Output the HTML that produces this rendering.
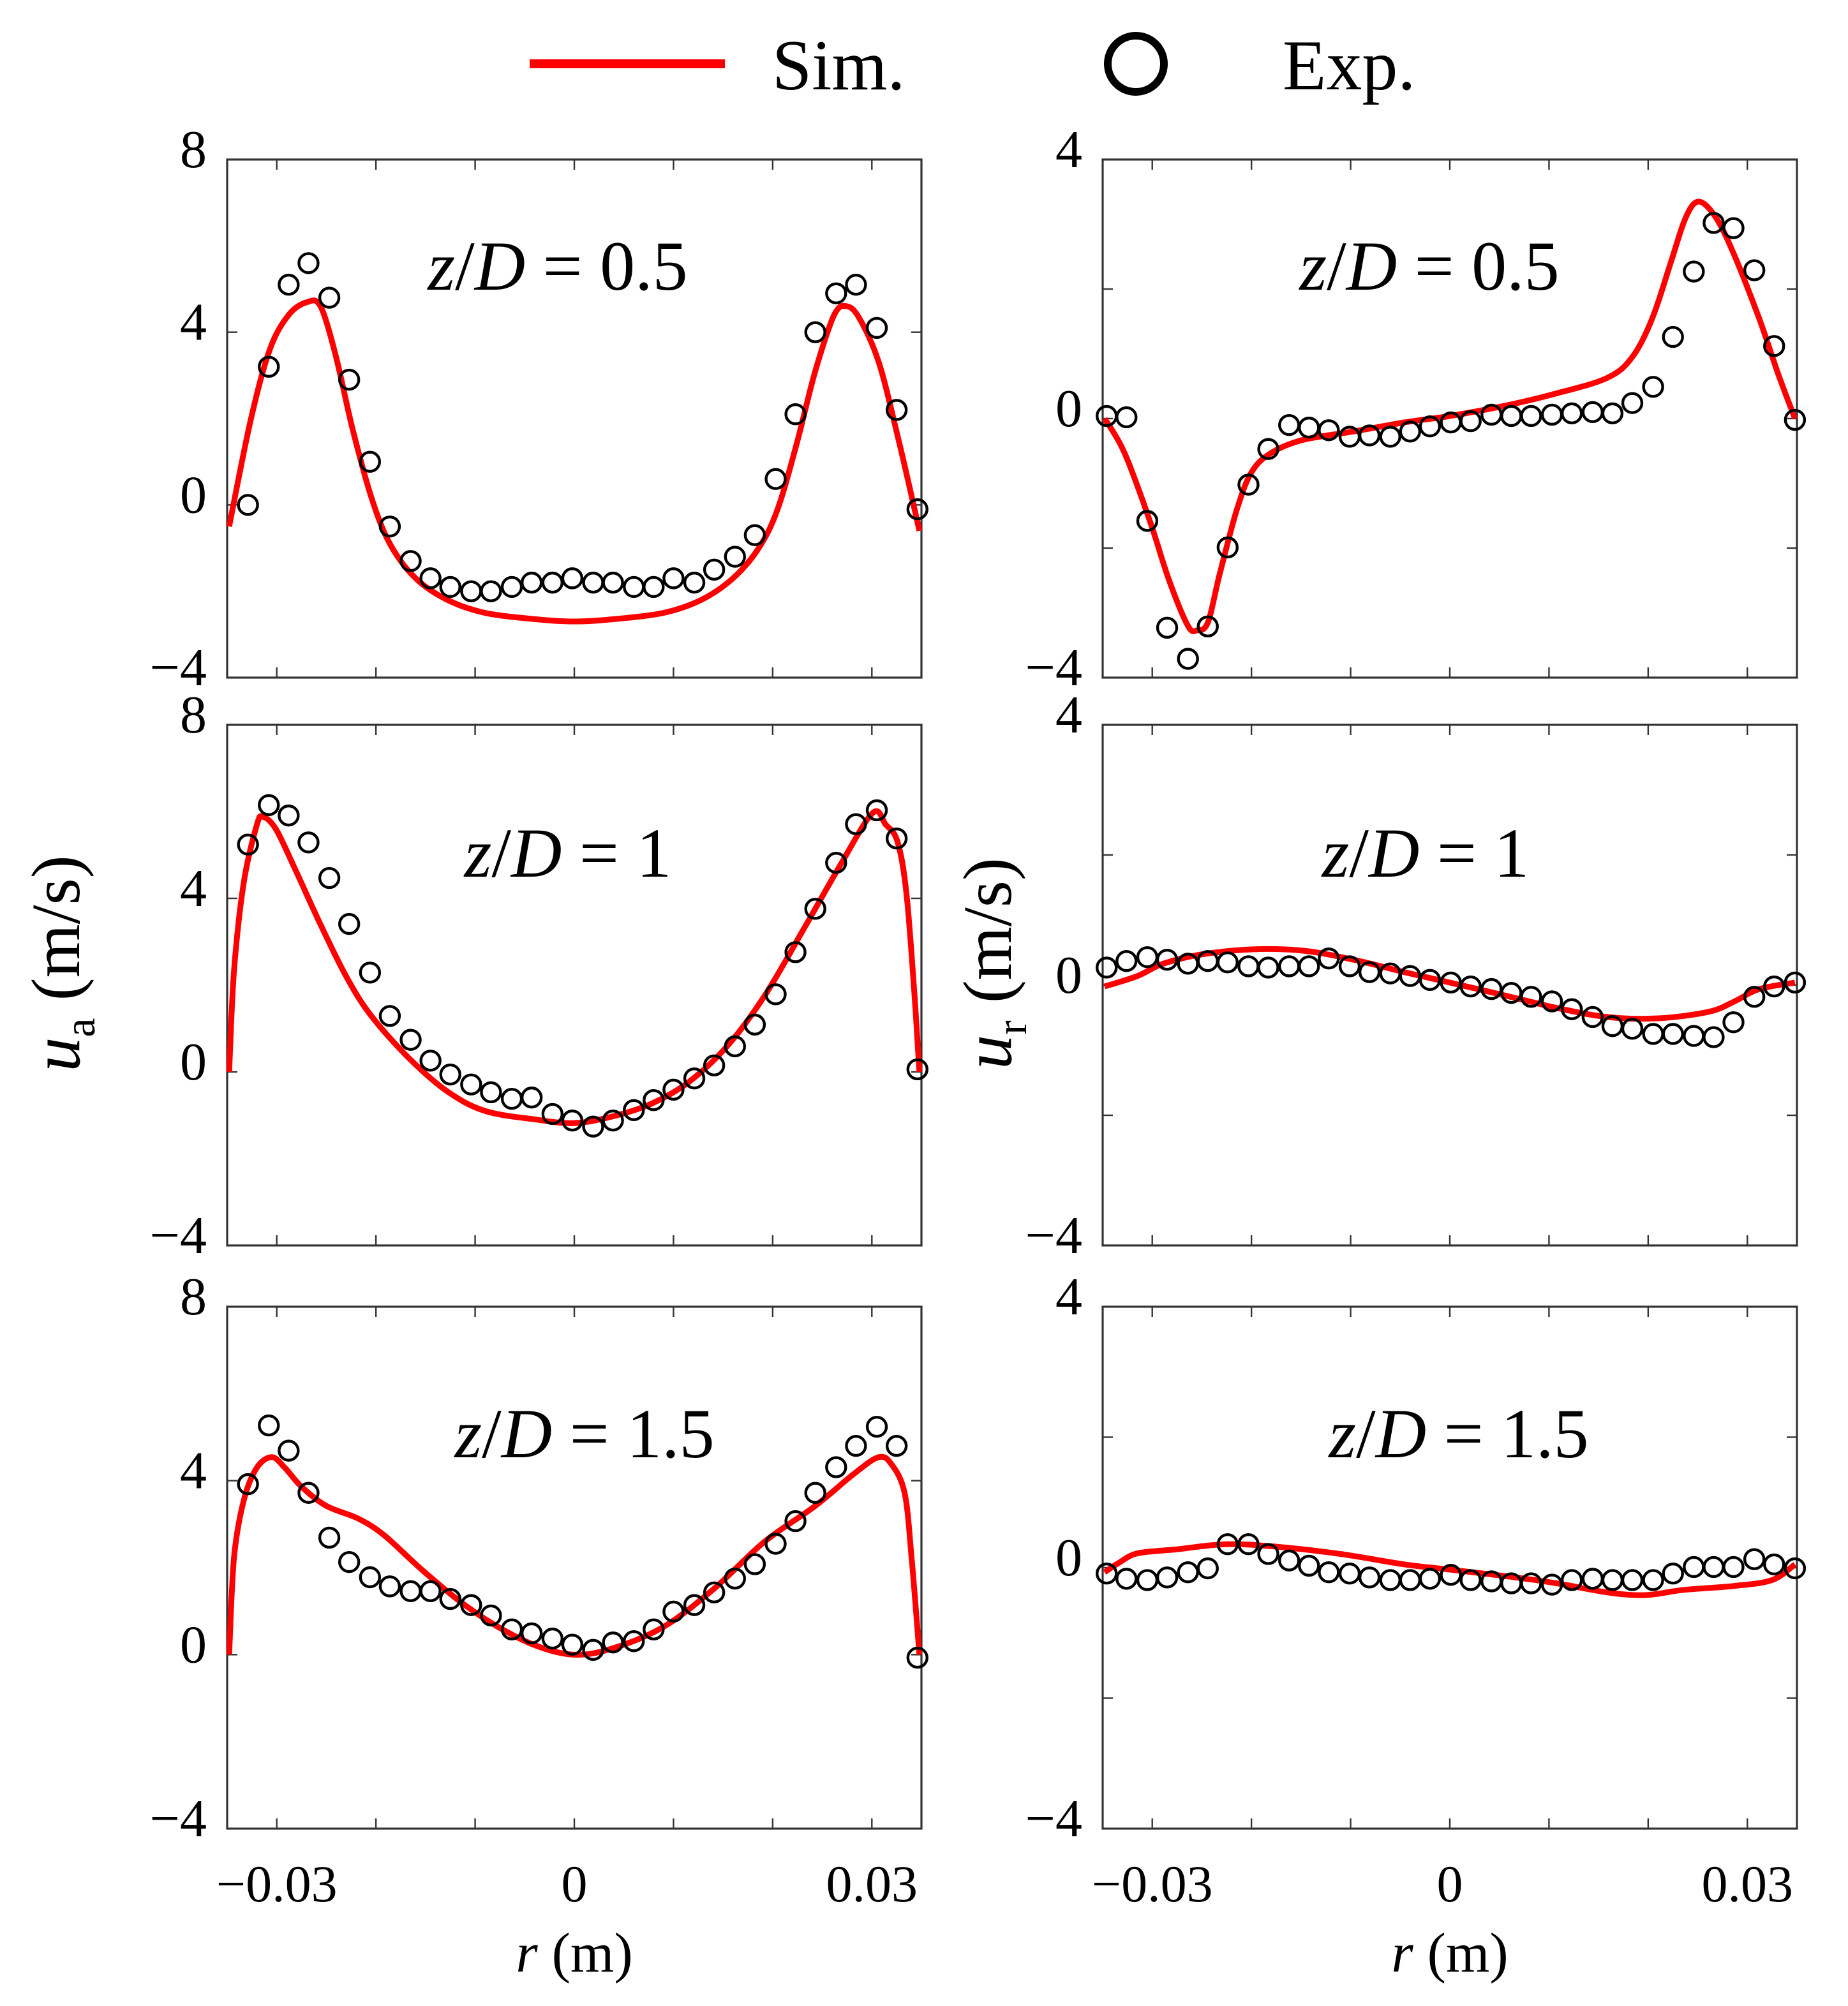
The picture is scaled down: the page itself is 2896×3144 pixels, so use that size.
<!DOCTYPE html>
<html><head><meta charset="utf-8"><style>
html,body{margin:0;padding:0;background:#fff;}
svg{display:block;}
text{font-family:"Liberation Serif",serif;fill:#000;}
</style></head><body>
<svg id="fig" width="2896" height="3144" viewBox="0 0 1448 1572" xmlns="http://www.w3.org/2000/svg">
<g>
<line x1="415" y1="50" x2="568" y2="50" stroke="#f00" stroke-width="7"/>
<text x="605" y="70" font-size="56">Sim.</text>
<circle cx="890" cy="50" r="22" fill="none" stroke="#000" stroke-width="6"/>
<text x="1005" y="70" font-size="56">Exp.</text>
</g>
<text transform="translate(62,755) rotate(-90)" text-anchor="middle" font-size="54"><tspan font-style="italic">u</tspan><tspan font-size="34" dy="12">a</tspan><tspan dy="-12"> (m/s)</tspan></text>
<text transform="translate(792,755) rotate(-90)" text-anchor="middle" font-size="54"><tspan font-style="italic">u</tspan><tspan font-size="34" dy="12">r</tspan><tspan dy="-12"> (m/s)</tspan></text>
<text x="450" y="1545" text-anchor="middle" font-size="44"><tspan font-style="italic">r</tspan> (m)</text>
<text x="1136" y="1545" text-anchor="middle" font-size="44"><tspan font-style="italic">r</tspan> (m)</text>
</svg>
<script>
const xTicks=[-0.03,0,0.03];
const xMinor=[-0.03,-0.02,-0.01,0,0.01,0.02,0.03];
const yTicksA=[8,4,0,-4];
const yTicksR=[4,0,-4];
const yMinorR=[4,2,0,-2,-4];
const titles=["0.5","1","1.5"];
const rExpL=[-0.0329,-0.0308,-0.0288,-0.0268,-0.0247,-0.0227,-0.0206,-0.0186,-0.0165,-0.0145,-0.0125,-0.0104,-0.0084,-0.0063,-0.0043,-0.0022,-0.0002,0.0019,0.0039,0.006,0.008,0.01,0.0121,0.0141,0.0162,0.0182,0.0203,0.0223,0.0243,0.0264,0.0284,0.0305,0.0325,0.0346];
const rExpR=[-0.0346,-0.0326,-0.0305,-0.0285,-0.0264,-0.0244,-0.0224,-0.0203,-0.0183,-0.0162,-0.0142,-0.0122,-0.0101,-0.0081,-0.006,-0.004,-0.002,0.0001,0.0021,0.0042,0.0062,0.0082,0.0103,0.0123,0.0144,0.0164,0.0184,0.0205,0.0225,0.0246,0.0266,0.0286,0.0307,0.0327,0.0348];
const expA1=[0.0,3.2,5.1,5.6,4.8,2.9,1.0,-0.5,-1.3,-1.7,-1.9,-2.0,-2.0,-1.9,-1.8,-1.8,-1.7,-1.8,-1.8,-1.9,-1.9,-1.7,-1.8,-1.5,-1.2,-0.7,0.6,2.1,4.0,4.9,5.1,4.1,2.2,-0.1];
const expA2=[5.24,6.15,5.91,5.29,4.47,3.41,2.29,1.29,0.74,0.26,-0.06,-0.29,-0.47,-0.62,-0.59,-0.97,-1.12,-1.26,-1.12,-0.88,-0.65,-0.41,-0.15,0.15,0.59,1.09,1.79,2.76,3.76,4.82,5.71,6.03,5.38,0.06];
const expA3=[3.92,5.27,4.69,3.72,2.69,2.13,1.78,1.57,1.46,1.46,1.28,1.14,0.9,0.58,0.49,0.37,0.23,0.11,0.28,0.31,0.58,0.99,1.14,1.43,1.75,2.08,2.55,3.07,3.72,4.31,4.8,5.24,4.8,-0.07];
const expR1=[0.04,0.02,-1.58,-3.23,-3.71,-3.21,-1.99,-1.02,-0.47,-0.1,-0.14,-0.18,-0.28,-0.26,-0.28,-0.2,-0.12,-0.06,-0.04,0.06,0.04,0.04,0.06,0.08,0.1,0.08,0.24,0.49,1.26,2.27,3.02,2.94,2.29,1.12,-0.02];
const expR2=[0.27,0.37,0.43,0.39,0.33,0.37,0.35,0.29,0.27,0.29,0.29,0.41,0.29,0.2,0.18,0.14,0.08,0.04,-0.02,-0.06,-0.12,-0.18,-0.25,-0.37,-0.49,-0.63,-0.67,-0.75,-0.75,-0.78,-0.8,-0.57,-0.18,-0.02,0.04];
const expR3=[-0.09,-0.17,-0.19,-0.15,-0.07,-0.01,0.36,0.36,0.21,0.11,0.03,-0.07,-0.09,-0.15,-0.19,-0.19,-0.17,-0.11,-0.19,-0.21,-0.24,-0.24,-0.26,-0.19,-0.17,-0.19,-0.19,-0.19,-0.09,0.01,0.01,0.01,0.13,0.05,-0.01];
const rSimA1=[-0.0348,-0.0326,-0.0307,-0.0288,-0.0269,-0.0256,-0.0241,-0.0224,-0.0205,-0.0186,-0.016,-0.0128,-0.009,-0.0038,0,0.0038,0.009,0.0128,0.016,0.0186,0.0205,0.0224,0.0243,0.0262,0.0275,0.0288,0.0307,0.0326,0.0348];
const simA1=[-0.5,2.0,3.6,4.4,4.7,4.6,3.5,1.8,0.2,-0.9,-1.7,-2.2,-2.5,-2.65,-2.7,-2.65,-2.5,-2.2,-1.7,-1.0,-0.1,1.4,3.1,4.4,4.6,4.3,3.3,1.6,-0.6];
const rSimA2=[-0.0348,-0.0343,-0.0333,-0.032,-0.0314,-0.0301,-0.0282,-0.0256,-0.023,-0.0205,-0.0166,-0.0128,-0.009,-0.0038,0,0.0038,0.0077,0.0115,0.0154,0.0192,0.023,0.0269,0.0301,0.0314,0.0326,0.0335,0.0343,0.0348];
const simA2=[0,2.35,4.4,5.7,5.88,5.6,4.7,3.4,2.2,1.3,0.3,-0.45,-0.9,-1.1,-1.18,-1.03,-0.74,-0.24,0.59,1.76,3.24,4.8,5.97,5.7,5.3,4.1,1.76,0];
const rSimA3=[-0.0348,-0.0343,-0.0333,-0.032,-0.0305,-0.0292,-0.0275,-0.025,-0.0218,-0.0192,-0.0154,-0.0115,-0.0077,-0.0038,0,0.0038,0.009,0.0141,0.0192,0.0243,0.0282,0.0307,0.032,0.0333,0.034,0.0348];
const simA3=[0,2.25,3.57,4.3,4.54,4.3,3.86,3.42,3.13,2.75,1.96,1.22,0.64,0.2,0,0.14,0.64,1.52,2.6,3.42,4.16,4.54,4.37,3.72,2.25,0];
const rSimR1=[-0.0348,-0.0328,-0.0302,-0.0283,-0.0264,-0.0255,-0.0244,-0.0232,-0.0215,-0.02,-0.018,-0.0148,-0.0097,-0.0046,0,0.0056,0.0108,0.0159,0.0184,0.0204,0.0223,0.0238,0.0251,0.0268,0.0287,0.0312,0.0332,0.0348];
const simR1=[0,-0.53,-1.6,-2.5,-3.2,-3.27,-3.15,-2.4,-1.42,-0.83,-0.53,-0.33,-0.2,-0.06,0.04,0.2,0.39,0.63,0.95,1.54,2.42,3.11,3.35,3.11,2.52,1.54,0.65,0];
const rSimR2=[-0.0348,-0.0315,-0.0289,-0.0251,-0.02,-0.0148,-0.0097,-0.0046,0,0.0056,0.0108,0.0159,0.021,0.0261,0.0287,0.0312,0.0348];
const simR2=[-0.02,0.14,0.33,0.47,0.55,0.53,0.39,0.2,0.04,-0.16,-0.35,-0.49,-0.51,-0.41,-0.25,-0.06,0.04];
const rSimR3=[-0.0348,-0.0334,-0.0315,-0.0276,-0.0225,-0.0174,-0.011,-0.0046,0,0.0056,0.0108,0.0159,0.0197,0.0236,0.0287,0.0325,0.0348];
const simR3=[-0.07,0.07,0.22,0.28,0.36,0.32,0.21,0.05,-0.03,-0.13,-0.24,-0.38,-0.42,-0.34,-0.28,-0.19,0.05];

const NS="http://www.w3.org/2000/svg";
const svg=document.getElementById('fig');
function mk(tag,attrs,parent){const e=document.createElementNS(NS,tag);for(const k in attrs)e.setAttribute(k,attrs[k]);(parent||svg).appendChild(e);return e;}
const rows=[[125,531],[568,976],[1024,1433]];
const cols=[[178,722],[864,1408]];
function smooth(pts){let d="M"+pts[0][0]+","+pts[0][1];for(let i=0;i<pts.length-1;i++){const p0=pts[Math.max(0,i-1)],p1=pts[i],p2=pts[i+1],p3=pts[Math.min(pts.length-1,i+2)];const c1x=p1[0]+(p2[0]-p0[0])/6,c1y=p1[1]+(p2[1]-p0[1])/6,c2x=p2[0]-(p3[0]-p1[0])/6,c2y=p2[1]-(p3[1]-p1[1])/6;d+=" C"+c1x.toFixed(1)+","+c1y.toFixed(1)+" "+c2x.toFixed(1)+","+c2y.toFixed(1)+" "+p2[0].toFixed(1)+","+p2[1].toFixed(1);}return d;}
const panels=[
 {c:0,r:0,ymin:-4,ymax:8,yt:yTicksA,ym:yTicksA,re:rExpL,ev:expA1,rs:rSimA1,sv:simA1,tx:437,ty:227,name:'ua'},
 {c:1,r:0,ymin:-4,ymax:4,yt:yTicksR,ym:yMinorR,re:rExpR,ev:expR1,rs:rSimR1,sv:simR1,tx:1120,ty:227,name:'ur'},
 {c:0,r:1,ymin:-4,ymax:8,yt:yTicksA,ym:yTicksA,re:rExpL,ev:expA2,rs:rSimA2,sv:simA2,tx:445,ty:687,name:'ua'},
 {c:1,r:1,ymin:-4,ymax:4,yt:yTicksR,ym:yMinorR,re:rExpR,ev:expR2,rs:rSimR2,sv:simR2,tx:1117,ty:687,name:'ur'},
 {c:0,r:2,ymin:-4,ymax:8,yt:yTicksA,ym:yTicksA,re:rExpL,ev:expA3,rs:rSimA3,sv:simA3,tx:458,ty:1142,name:'ua'},
 {c:1,r:2,ymin:-4,ymax:4,yt:yTicksR,ym:yMinorR,re:rExpR,ev:expR3,rs:rSimR3,sv:simR3,tx:1143,ty:1142,name:'ur'}];
panels.forEach((p,pi)=>{
 const [x0,x1]=cols[p.c],[y0,y1]=rows[p.r];
 const X=v=>x0+(v+0.035)/0.07*(x1-x0);
 const Y=v=>y1-(v-p.ymin)/(p.ymax-p.ymin)*(y1-y0);
 const g=mk('g',{});
 
 
 const fr=mk('rect',{x:x0,y:y0,width:x1-x0,height:y1-y0,fill:'none',stroke:'#333','stroke-width':1.6},g);
 
 
 xMinor.forEach(t=>{const x=X(t);
  const a=mk('line',{x1:x,x2:x,y1:y1,y2:y1-8,stroke:'#333','stroke-width':1.2},g);
  
  
  const b=mk('line',{x1:x,x2:x,y1:y0,y2:y0+8,stroke:'#333','stroke-width':1.2},g);
  
  });
 p.ym.forEach(t=>{const y=Y(t);
  const a=mk('line',{x1:x0,x2:x0+8,y1:y,y2:y,stroke:'#333','stroke-width':1.2},g);
  
  
  const b=mk('line',{x1:x1,x2:x1-8,y1:y,y2:y,stroke:'#333','stroke-width':1.2},g);
  
  });
 p.yt.forEach(t=>{const tx=mk('text',{x:x0-16,y:Y(t)+6,'text-anchor':'end','font-size':42},g);
  tx.textContent=(t<0?'\u2212':'')+Math.abs(t);
  
  });
 if(p.r===2){xTicks.forEach(t=>{const tx=mk('text',{x:X(t),y:1490,'text-anchor':'middle','font-size':41},g);
  tx.textContent=t===0?'0':(t<0?'\u22120.03':'0.03');
  
  });}
 const tt=mk('text',{x:p.tx,y:p.ty,'text-anchor':'middle','font-size':55},g);
 tt.innerHTML='<tspan font-style="italic">z</tspan>/<tspan font-style="italic">D</tspan> = '+titles[p.r];
 
 
 const pts=p.rs.map((r,i)=>[X(r),Y(p.sv[i])]);
 const path=mk('path',{d:smooth(pts),fill:'none',stroke:'#f00','stroke-width':4.5,'stroke-linejoin':'round'},g);
 
 
 p.re.forEach((r,i)=>{const c=mk('circle',{cx:X(r),cy:Y(p.ev[i]),r:7.5,fill:'none',stroke:'#000','stroke-width':2.2},g);
  
  });
});
</script>
</body></html>
